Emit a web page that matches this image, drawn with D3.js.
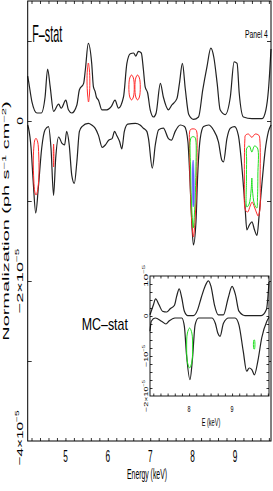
<!DOCTYPE html>
<html>
<head>
<meta charset="utf-8">
<script src="https://cdn.jsdelivr.net/npm/d3@7"></script>
<style>
  body { margin: 0; background: #fff; }
  svg { display: block; }
</style>
</head>
<body>
<div id="chart"></div>
<script>
// flux values are in units of 1e-5 ph s^-1 cm^-2
var energyTop = [4.11,4.13,4.21,4.33,4.43,4.52,4.58,4.64,4.72,4.84,4.90,5.01,5.07,5.15,5.27,5.33,5.43,5.47,5.54,5.62,5.66,5.70,5.73,5.78,5.86,5.98,6.08,6.17,6.25,6.37,6.45,6.53,6.61,6.66,6.72,6.79,6.84,6.88,6.94,7.00,7.08,7.14,7.24,7.31,7.43,7.51,7.63,7.69,7.76,7.83,7.91,8.02,8.14,8.24,8.34,8.43,8.50,8.58,8.65,8.77,8.89,8.98,9.05,9.10,9.20,9.40,9.64,9.73,9.79,9.85];
var fluxTop = [0.56,0.50,0.24,0.10,0.10,0.30,0.65,0.43,0.12,0.21,0.16,0.26,0.14,0.10,0.20,0.39,0.47,0.64,0.97,0.72,0.43,0.37,0.30,0.26,0.14,0.14,0.18,0.26,0.16,0.30,0.72,0.84,0.85,0.81,0.87,0.85,0.64,0.43,0.35,0.14,0.05,0.10,0.47,0.30,0.14,0.20,0.28,0.47,0.72,0.39,0.08,0.02,0.05,0.39,0.68,0.91,0.80,0.47,0.14,0.08,0.30,0.74,0.72,0.35,0.05,0.03,0.03,0.14,0.39,0.90];

var energyBot = [4.11,4.13,4.19,4.24,4.30,4.36,4.44,4.52,4.60,4.66,4.72,4.77,4.84,4.92,4.98,5.03,5.09,5.15,5.21,5.27,5.33,5.39,5.54,5.62,5.70,5.78,5.87,5.94,6.02,6.10,6.16,6.21,6.28,6.33,6.39,6.47,6.65,6.76,6.84,6.92,6.96,7.05,7.12,7.20,7.31,7.43,7.50,7.59,7.71,7.81,7.89,7.94,7.98,8.02,8.08,8.12,8.18,8.26,8.38,8.49,8.61,8.69,8.73,8.81,8.89,8.99,9.08,9.18,9.24,9.28,9.34,9.40,9.46,9.52,9.57,9.64,9.71,9.79,9.85];
var fluxBot = [-0.05,-0.09,-0.34,-0.76,-1.15,-0.84,-0.34,-0.11,-0.07,-0.34,-0.93,-0.47,-0.20,-0.28,-0.30,-0.13,-0.30,-0.68,-0.78,-0.51,-0.13,-0.07,-0.03,-0.05,-0.09,-0.18,-0.33,-0.30,-0.24,-0.22,-0.13,-0.18,-0.26,-0.35,-0.13,-0.04,-0.03,-0.05,-0.09,-0.13,-0.22,-0.59,-0.30,-0.11,-0.09,-0.22,-0.24,-0.13,-0.05,-0.07,-0.26,-0.76,-1.26,-1.55,-1.26,-0.68,-0.22,-0.07,-0.05,-0.11,-0.26,-0.49,-0.51,-0.22,-0.09,-0.07,-0.18,-0.68,-1.09,-1.36,-1.30,-1.26,-1.36,-1.43,-1.18,-0.76,-0.38,-0.13,-0.05];

// inset (MC-stat)
var insetEnergyTop = [7.09,7.17,7.22,7.30,7.38,7.48,7.56,7.66,7.71,7.77,7.83,7.89,7.97,8.10,8.20,8.28,8.37,8.45,8.51,8.59,8.68,8.80,8.91,9.00,9.08,9.16,9.30,9.68,9.80,9.86];
var insetFluxTop = [0.03,0.28,0.43,0.28,0.12,0.10,0.18,0.27,0.49,0.68,0.45,0.12,0.01,0.01,0.16,0.45,0.74,0.88,0.74,0.28,0.03,0.03,0.45,0.74,0.53,0.12,0.01,0.01,0.16,0.85];
var insetEnergyBot = [7.09,7.12,7.21,7.36,7.46,7.54,7.67,7.83,7.89,7.94,8.02,8.08,8.14,8.22,8.53,8.61,8.67,8.72,8.80,8.92,9.07,9.16,9.26,9.34,9.40,9.46,9.52,9.60,9.69,9.81,9.86];
var insetFluxBot = [-0.38,-0.13,-0.05,-0.13,-0.20,-0.12,-0.05,-0.05,-0.26,-0.97,-1.59,-1.05,-0.22,-0.05,-0.05,-0.18,-0.43,-0.51,-0.18,-0.05,-0.05,-0.22,-0.88,-1.38,-1.30,-1.34,-1.47,-1.13,-0.55,-0.13,-0.03];

// confidence contours, [energy, flux]
var red43 = [[4.306,-0.216],[4.346,-0.263],[4.37,-0.425],[4.377,-0.613],[4.36,-0.8],[4.33,-0.9],[4.306,-0.925],[4.278,-0.888],[4.254,-0.738],[4.242,-0.488],[4.259,-0.3],[4.278,-0.238]];
var red47 = [[4.721,-0.288],[4.728,-0.425],[4.721,-0.575],[4.714,-0.425]];
var red55 = [[5.541,0.725],[5.566,0.638],[5.576,0.488],[5.566,0.325],[5.545,0.238],[5.524,0.325],[5.51,0.488],[5.518,0.638]];
var red66a = [[6.56,0.575],[6.603,0.538],[6.624,0.425],[6.603,0.3],[6.56,0.263],[6.518,0.3],[6.497,0.425],[6.518,0.538]];
var red67b = [[6.702,0.575],[6.745,0.538],[6.766,0.425],[6.745,0.3],[6.702,0.263],[6.66,0.3],[6.639,0.425],[6.66,0.538]];
var red80 = [[7.93,-0.138],[7.953,-0.106],[8.012,-0.098],[8.071,-0.106],[8.1,-0.138],[8.107,-0.3],[8.095,-0.738],[8.071,-1.113],[8.036,-1.388],[8.019,-1.45],[8.0,-1.388],[7.965,-1.113],[7.941,-0.738],[7.925,-0.3]];
var green80 = [[7.948,-0.238],[7.977,-0.2],[8.012,-0.196],[8.048,-0.2],[8.076,-0.238],[8.078,-0.613],[8.06,-0.988],[8.031,-1.263],[8.017,-1.338],[8.0,-1.263],[7.972,-0.988],[7.953,-0.613]];
var blue80 = [[8.014,-0.488],[8.036,-0.675],[8.032,-1.05],[8.014,-1.075],[7.994,-0.863],[7.994,-0.55]];
var red94 = [[9.233,-0.238],[9.247,-0.179],[9.318,-0.163],[9.398,-0.204],[9.476,-0.163],[9.563,-0.179],[9.587,-0.238],[9.594,-0.738],[9.587,-1.113],[9.547,-1.188],[9.511,-1.15],[9.459,-1.075],[9.405,-1.013],[9.358,-1.063],[9.299,-1.138],[9.247,-1.113],[9.223,-0.738]];
var green94 = [[9.28,-0.338],[9.341,-0.313],[9.398,-0.388],[9.459,-0.313],[9.53,-0.338],[9.54,-0.675],[9.53,-0.988],[9.516,-1.088],[9.459,-1.038],[9.412,-0.863],[9.398,-0.713],[9.381,-0.863],[9.334,-1.038],[9.28,-1.075],[9.271,-0.738],[9.275,-0.488]];
var insetGreen80 = [[8.012,-0.3],[8.064,-0.425],[8.082,-0.8],[8.064,-1.15],[8.012,-1.3],[7.961,-1.15],[7.943,-0.8],[7.961,-0.425]];
var insetGreen95 = [[9.508,-0.6],[9.522,-0.6],[9.522,-0.825],[9.508,-0.825]];

var xTickLabels = [5, 6, 7, 8, 9];
var insetXTickLabels = [8, 9];

var FONT = "'Liberation Sans', Arial, Helvetica, sans-serif",
  curveColor = "#222",
  redColor = "#ff2b2b",
  greenColor = "#22e022",
  blueColor = "#6262ff";

var svg = d3.select("#chart").append("svg").attr("width", 273).attr("height", 491);

var x = d3.scaleLinear().domain([4.11, 9.85]).range([27.7, 271]);
var y = d3.scaleLinear().domain([-4, 1.5]).range([441, 1]);
var ix = d3.scaleLinear().domain([7.09, 9.86]).range([150, 269]);
var iy = d3.scaleLinear().domain([-2, 1]).range([396, 276]);

// text squeezed/stretched along its baseline to a given length
function label(parent, tx, ty, rot, anchor, size, target, parts) {
  var g = parent.append("g").attr("transform", "translate(" + tx + "," + ty + ") rotate(" + rot + ")");
  var t = g.append("text")
    .attr("text-anchor", anchor)
    .attr("font-family", FONT)
    .attr("font-size", size)
    .attr("fill", "#000");
  var shifted = false;
  parts.forEach(function (p) {
    if (typeof p === "string") {
      var s = t.append("tspan").text(p);
      if (shifted) { s.attr("dy", size * 0.4); shifted = false; }
    } else {
      t.append("tspan").attr("font-size", size * 0.65).attr("dy", -size * 0.4).text(p.sup);
      shifted = true;
    }
  });
  var w = t.node().getBBox().width;
  t.attr("transform", "scale(" + (target / w) + ",1)");
}

function ticks(parent, axisFn, scale, values, size, transform) {
  parent.append("g")
    .attr("transform", transform)
    .call(axisFn(scale).tickValues(values).tickSize(size).tickFormat(""))
    .call(function (g) { g.select(".domain").remove(); })
    .selectAll("line").attr("stroke", "#000").attr("stroke-width", 0.8);
}

function curve(parent, xs, ys, ex, fx, color, w) {
  var line = d3.line()
    .x(function (d, i) { return xs(ex[i]); })
    .y(function (d, i) { return ys(fx[i]); })
    .curve(d3.curveMonotoneX);
  parent.append("path").datum(ex).attr("d", line)
    .attr("fill", "none").attr("stroke", color).attr("stroke-width", w).attr("stroke-linejoin", "round");
}

function contour(parent, xs, ys, pts, color, fill) {
  var line = d3.line()
    .x(function (d) { return xs(d[0]); })
    .y(function (d) { return ys(d[1]); })
    .curve(d3.curveCatmullRomClosed);
  parent.append("path").datum(pts).attr("d", line)
    .attr("fill", fill ? color : "none").attr("stroke", color).attr("stroke-width", fill ? 0.5 : 1);
}

// ---- main panel ----
var main = svg.append("g");
var minorX = d3.range(21, 50).map(function (d) { return d / 5; });
ticks(main, d3.axisBottom, x, minorX, -3, "translate(0,441)");
ticks(main, d3.axisTop, x, minorX, -3, "translate(0,1)");
ticks(main, d3.axisLeft, y, [1, 0, -1, -2, -3], -4, "translate(27.7,0)");
ticks(main, d3.axisRight, y, [1, 0, -1, -2, -3], -4, "translate(271,0)");

curve(main, x, y, energyTop, fluxTop, curveColor, 1.2);
curve(main, x, y, energyBot, fluxBot, curveColor, 1.2);

[red43, red47, red55, red66a, red67b, red80, red94].forEach(function (c) { contour(main, x, y, c, redColor, false); });
[green80, green94].forEach(function (c) { contour(main, x, y, c, greenColor, false); });
contour(main, x, y, blue80, blueColor, true);

main.append("rect").attr("x", 27.7).attr("y", 1).attr("width", 271 - 27.7).attr("height", 440)
  .attr("fill", "none").attr("stroke", "#000").attr("stroke-width", 1);

xTickLabels.forEach(function (v) { label(main, x(v), 461.5, 0, "middle", 17, 4.6, [String(v)]); });
label(main, 147, 479, 0, "middle", 14.5, 40, ["Energy (keV)"]);
label(main, 9, 221, -90, "middle", 8.5, 240, ["Normalization (ph s", { sup: "\u22121" }, " cm", { sup: "\u22122" }, ")"]);
label(main, 22.5, y(0), -90, "middle", 9.5, 7.7, ["0"]);
label(main, 22.5, y(-2), -90, "middle", 9.5, 66, ["\u22122\u00d710", { sup: "\u22125" }]);
label(main, 22.5, y(-4) - 3, -90, "middle", 9.5, 56, ["\u22124\u00d710", { sup: "\u22125" }]);
label(main, 32.3, 41.5, 0, "start", 24, 30, ["F\u2013stat"]);
label(main, 245, 37.5, 0, "start", 10.5, 23, ["Panel 4"]);
label(main, 81.7, 330, 0, "start", 16, 46.7, ["MC\u2013stat"]);

// ---- inset ----
var inset = svg.append("g");
inset.append("rect").attr("x", 150).attr("y", 276).attr("width", 119).attr("height", 120).attr("fill", "#fff");
var insetMinorX = d3.range(43, 60).map(function (d) { return d / 6; });
var insetMinorY = d3.range(-9, 5).map(function (d) { return d / 5; });
ticks(inset, d3.axisBottom, ix, insetMinorX, -2.5, "translate(0,396)");
ticks(inset, d3.axisTop, ix, insetMinorX, -2.5, "translate(0,276)");
ticks(inset, d3.axisLeft, iy, insetMinorY, -2.5, "translate(150,0)");
ticks(inset, d3.axisRight, iy, insetMinorY, -2.5, "translate(269,0)");

curve(inset, ix, iy, insetEnergyTop, insetFluxTop, curveColor, 1.2);
curve(inset, ix, iy, insetEnergyBot, insetFluxBot, curveColor, 1.2);
contour(inset, ix, iy, insetGreen80, greenColor, false);
contour(inset, ix, iy, insetGreen95, greenColor, false);

inset.append("rect").attr("x", 150).attr("y", 276).attr("width", 119).attr("height", 120)
  .attr("fill", "none").attr("stroke", "#000").attr("stroke-width", 0.9);

insetXTickLabels.forEach(function (v) { label(inset, ix(v), 412, 0, "middle", 9.5, 3, [String(v)]); });
label(inset, 211, 426, 0, "middle", 10, 18.5, ["E (keV)"]);
label(inset, 147.5, iy(1), -90, "middle", 6, 22, ["10", { sup: "\u22125" }]);
label(inset, 147.5, iy(0), -90, "middle", 6, 5, ["0"]);
label(inset, 147.5, iy(-1), -90, "middle", 6, 22, ["\u221210", { sup: "\u22125" }]);
label(inset, 147.5, iy(-2), -90, "middle", 6, 32, ["\u22122\u00d710", { sup: "\u22125" }]);
</script>
</body>
</html>
